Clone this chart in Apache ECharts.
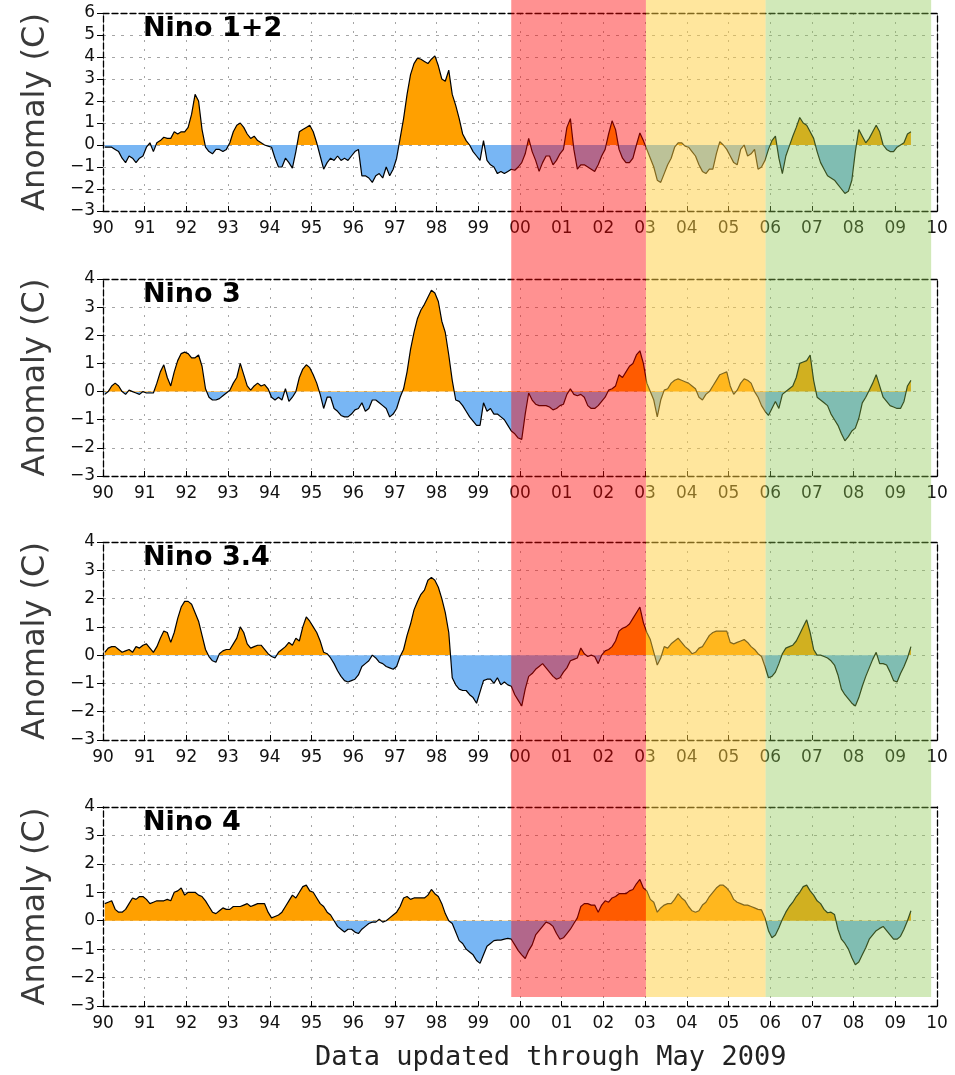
<!DOCTYPE html>
<html>
<head>
<meta charset="utf-8">
<title>Nino SST anomalies</title>
<script src="https://cdn.jsdelivr.net/npm/echarts@6/dist/echarts.min.js"></script>
<style>
html, body { margin: 0; padding: 0; background: #fff; }
#main { width: 955px; height: 1075px; }
</style>
</head>
<body>
<div id="main"></div>
<script>
// monthly anomalies, Jan 1990 .. May 2009 (one row per year)
var startYear = 1990;
var panelNames = ['Nino 1+2', 'Nino 3', 'Nino 3.4', 'Nino 4'];
var yMax = [6, 4, 4, 4];
var yMin = -3;

var nino12 = [
    -0.1, -0.1, -0.1, -0.2, -0.3, -0.6, -0.8, -0.5, -0.6, -0.8, -0.6, -0.5,
    -0.1, 0.1, -0.3, 0.1, 0.2, 0.35, 0.3, 0.3, 0.6, 0.5, 0.6, 0.6,
    0.8, 1.4, 2.3, 2.0, 0.7, -0.1, -0.3, -0.4, -0.2, -0.2, -0.3, -0.2,
    0.1, 0.6, 0.9, 1.0, 0.8, 0.5, 0.3, 0.4, 0.2, 0.1, 0.0, -0.05,
    -0.1, -0.6, -1.0, -1.0, -0.6, -0.8, -1.05, -0.3, 0.6, 0.7, 0.8, 0.9,
    0.6, 0.1, -0.5, -1.1, -0.8, -0.6, -0.7, -0.5, -0.7, -0.6, -0.7, -0.5,
    -0.3, -0.2, -1.4, -1.4, -1.5, -1.7, -1.4, -1.3, -1.5, -1.0, -1.4, -1.1,
    -0.6, 0.3, 1.2, 2.3, 3.2, 3.7, 3.95, 3.9, 3.8, 3.7, 3.9, 4.05,
    3.6, 3.0, 2.9, 3.4, 2.3, 1.8, 1.2, 0.5, 0.2, 0.0, -0.3, -0.5,
    -0.7, 0.2, -0.7, -0.9, -1.0, -1.3, -1.2, -1.3, -1.2, -1.1, -1.15, -1.0,
    -0.8, -0.4, 0.3, -0.3, -0.7, -1.2, -0.8, -0.5, -0.5, -0.9, -0.7, -0.4,
    -0.2, 0.8, 1.2, -0.2, -1.1, -0.9, -0.9, -1.0, -1.1, -1.2, -0.9, -0.5,
    -0.2, 0.5, 1.1, 0.7, -0.2, -0.6, -0.8, -0.8, -0.6, 0.0, 0.55, 0.2,
    -0.2, -0.6, -1.0, -1.6, -1.7, -1.3, -0.9, -0.6, -0.1, 0.1, 0.1, -0.05,
    -0.1, -0.3, -0.5, -0.9, -1.2, -1.3, -1.1, -1.1, -0.4, 0.15, 0.0, -0.2,
    -0.5, -0.8, -0.9, -0.2, 0.0, -0.5, -0.4, -0.2, -1.1, -1.0, -0.7, -0.2,
    0.2, 0.4, -0.6, -1.3, -0.5, -0.05, 0.4, 0.8, 1.25, 1.0, 0.9, 0.6,
    0.3, -0.3, -0.8, -1.1, -1.4, -1.5, -1.6, -1.8, -2.0, -2.2, -2.1, -1.6,
    -0.3, 0.7, 0.4, 0.1, 0.3, 0.6, 0.9, 0.6, 0.0, -0.2, -0.3, -0.3,
    -0.1, 0.0, 0.1, 0.5, 0.6
];

var nino3 = [
    -0.1, 0.0, 0.2, 0.3, 0.2, 0.0, -0.1, 0.05, 0.0, -0.05, -0.1, 0.0,
    -0.05, -0.05, -0.05, 0.3, 0.7, 0.95, 0.5, 0.2, 0.7, 1.1, 1.35, 1.4,
    1.35, 1.2, 1.2, 1.3, 0.9, 0.1, -0.2, -0.3, -0.3, -0.25, -0.15, -0.05,
    0.05, 0.3, 0.5, 1.0, 0.6, 0.2, 0.05, 0.2, 0.3, 0.2, 0.25, 0.1,
    -0.2, -0.3, -0.2, -0.3, 0.1, -0.35, -0.2, 0.0, 0.5, 0.8, 0.95, 0.85,
    0.6, 0.3, -0.1, -0.6, -0.2, -0.2, -0.6, -0.7, -0.85, -0.9, -0.9, -0.8,
    -0.65, -0.6, -0.4, -0.7, -0.6, -0.3, -0.3, -0.4, -0.5, -0.6, -0.9, -0.8,
    -0.6, -0.2, 0.1, 0.7, 1.5, 2.1, 2.6, 2.9, 3.1, 3.35, 3.6, 3.5,
    3.2, 2.5, 2.1, 1.3, 0.4, -0.3, -0.35, -0.5, -0.7, -0.9, -1.05, -1.2,
    -1.2, -0.4, -0.7, -0.6, -0.8, -0.8, -0.9, -1.0, -1.2, -1.4, -1.5, -1.65,
    -1.7, -0.8, -0.05, -0.3, -0.45, -0.5, -0.5, -0.5, -0.55, -0.65, -0.6, -0.5,
    -0.45, -0.1, 0.1, -0.1, -0.15, -0.1, -0.2, -0.5, -0.6, -0.6, -0.5, -0.35,
    -0.2, 0.05, 0.1, 0.2, 0.6, 0.5, 0.7, 0.9, 1.0, 1.3, 1.45, 1.0,
    0.3, 0.0, -0.3, -0.9, -0.3, 0.05, 0.1, 0.3, 0.4, 0.45, 0.4, 0.35,
    0.3, 0.2, 0.1, -0.2, -0.3, -0.1, 0.0, 0.2, 0.4, 0.6, 0.65, 0.7,
    0.2, -0.1, 0.05, 0.3, 0.45, 0.4, 0.3, 0.0, -0.2, -0.5, -0.7, -0.85,
    -0.6, -0.35, -0.6, -0.1, 0.0, 0.1, 0.2, 0.5, 1.0, 1.05, 1.1, 1.3,
    0.4, -0.2, -0.3, -0.4, -0.5, -0.8, -1.0, -1.2, -1.5, -1.75, -1.6, -1.4,
    -1.3, -0.95, -0.4, -0.2, 0.05, 0.3, 0.6, 0.2, -0.2, -0.35, -0.5, -0.55,
    -0.6, -0.6, -0.35, 0.2, 0.4
];

var nino34 = [
    0.1, 0.25, 0.3, 0.3, 0.2, 0.1, 0.15, 0.2, 0.1, 0.3, 0.25, 0.35,
    0.4, 0.25, 0.1, 0.3, 0.6, 0.85, 0.8, 0.45, 0.8, 1.3, 1.7, 1.9,
    1.9, 1.8, 1.5, 1.2, 0.7, 0.2, -0.05, -0.2, -0.25, 0.05, 0.15, 0.2,
    0.2, 0.4, 0.6, 1.0, 0.8, 0.4, 0.25, 0.3, 0.35, 0.35, 0.2, 0.05,
    -0.05, -0.1, 0.1, 0.2, 0.3, 0.45, 0.35, 0.6, 0.5, 1.0, 1.35, 1.2,
    1.0, 0.8, 0.5, 0.1, 0.05, -0.1, -0.3, -0.55, -0.75, -0.9, -0.95, -0.9,
    -0.85, -0.7, -0.4, -0.3, -0.2, 0.0, -0.1, -0.25, -0.3, -0.4, -0.45, -0.5,
    -0.4, -0.05, 0.2, 0.7, 1.1, 1.6, 1.9, 2.15, 2.3, 2.65, 2.75, 2.65,
    2.4, 2.0, 1.5, 0.8, -0.8, -1.05, -1.2, -1.25, -1.25, -1.4, -1.5, -1.7,
    -1.3, -0.9, -0.85, -0.85, -1.0, -0.8, -1.05, -0.95, -1.05, -1.1, -1.4, -1.6,
    -1.8, -1.2, -0.75, -0.65, -0.5, -0.4, -0.3, -0.45, -0.6, -0.75, -0.85, -0.8,
    -0.6, -0.45, -0.2, -0.15, -0.1, 0.25, 0.05, -0.05, 0.0, -0.05, -0.3, 0.0,
    0.15, 0.2, 0.3, 0.5, 0.85, 0.95, 1.0, 1.1, 1.3, 1.5, 1.7, 1.15,
    0.8, 0.55, 0.1, -0.35, -0.1, 0.3, 0.25, 0.4, 0.5, 0.6, 0.45, 0.3,
    0.2, 0.05, 0.1, 0.25, 0.3, 0.5, 0.7, 0.8, 0.85, 0.85, 0.85, 0.85,
    0.45, 0.4, 0.45, 0.5, 0.55, 0.45, 0.3, 0.2, 0.05, -0.05, -0.4, -0.8,
    -0.75, -0.6, -0.3, 0.05, 0.25, 0.3, 0.35, 0.5, 0.75, 1.0, 1.25, 0.8,
    0.2, 0.0, 0.0, -0.05, -0.1, -0.2, -0.35, -0.7, -1.2, -1.4, -1.55, -1.7,
    -1.8, -1.5, -1.1, -0.75, -0.45, -0.15, 0.1, -0.3, -0.3, -0.35, -0.6, -0.9,
    -0.95, -0.65, -0.4, -0.1, 0.3
];

var nino4 = [
    0.6, 0.65, 0.7, 0.4, 0.3, 0.3, 0.4, 0.6, 0.8, 0.75, 0.85, 0.85,
    0.75, 0.6, 0.65, 0.7, 0.7, 0.7, 0.75, 0.7, 1.0, 1.05, 1.15, 0.9,
    1.0, 1.0, 1.0, 0.9, 0.85, 0.7, 0.5, 0.3, 0.25, 0.35, 0.45, 0.4,
    0.4, 0.5, 0.5, 0.5, 0.55, 0.6, 0.5, 0.55, 0.6, 0.6, 0.6, 0.3,
    0.1, 0.15, 0.2, 0.3, 0.5, 0.7, 0.9, 0.8, 1.0, 1.2, 1.25, 1.05,
    1.0, 0.8, 0.6, 0.5, 0.3, 0.2, 0.0, -0.2, -0.3, -0.4, -0.3, -0.3,
    -0.4, -0.45, -0.3, -0.2, -0.1, -0.05, -0.05, 0.05, -0.05, 0.0, 0.1, 0.2,
    0.3, 0.5, 0.8, 0.85, 0.75, 0.8, 0.8, 0.8, 0.8, 0.9, 1.1, 0.95,
    0.85, 0.6, 0.25, 0.0, -0.1, -0.4, -0.7, -0.8, -1.0, -1.1, -1.2, -1.4,
    -1.5, -1.2, -0.9, -0.8, -0.7, -0.68, -0.68, -0.65, -0.62, -0.65, -0.85, -1.05,
    -1.2, -1.33, -1.05, -0.85, -0.5, -0.35, -0.2, -0.05, -0.1, -0.2, -0.45, -0.65,
    -0.6, -0.45, -0.3, -0.1, 0.1, 0.5, 0.6, 0.6, 0.55, 0.55, 0.3, 0.55,
    0.7, 0.65, 0.8, 0.85, 0.95, 0.95, 0.95, 1.05, 1.1, 1.3, 1.45, 1.15,
    1.05, 0.75, 0.65, 0.3, 0.45, 0.55, 0.6, 0.6, 0.75, 0.95, 0.8, 0.7,
    0.5, 0.35, 0.3, 0.35, 0.55, 0.65, 0.85, 1.0, 1.15, 1.25, 1.25, 1.15,
    1.0, 0.75, 0.65, 0.6, 0.55, 0.55, 0.5, 0.45, 0.4, 0.38, 0.1, -0.35,
    -0.6, -0.5, -0.25, 0.05, 0.3, 0.5, 0.65, 0.85, 1.0, 1.2, 1.25, 1.05,
    0.9, 0.7, 0.6, 0.4, 0.28, 0.3, 0.22, -0.3, -0.65, -0.8, -1.0, -1.3,
    -1.55, -1.45, -1.2, -0.95, -0.65, -0.5, -0.35, -0.27, -0.2, -0.35, -0.5, -0.65,
    -0.65, -0.55, -0.3, 0.0, 0.35
];

// shaded periods (decimal years)
var bands = [[1999.79, 2003.02], [2003.02, 2005.89], [2005.89, 2009.86]];
var bandColors = ['rgba(255,0,0,0.43)', 'rgba(255,205,60,0.5)', 'rgba(140,200,80,0.4)'];
var footerText = 'Data updated through May 2009';

var allSeries = [nino12, nino3, nino34, nino4];
var gridTops = [13, 279, 542, 807];
var gridHeights = [198, 197, 198, 199];

var chart = echarts.init(document.getElementById('main'), null, { renderer: 'canvas' });

function yearLabel(v) {
    var s = String(v % 100);
    return s.length < 2 ? '0' + s : s;
}

function toPoints(vals) {
    return vals.map(function (v, i) {
        return [startYear + (i + 0.5) / 12, v];
    });
}

var frameLine = { color: '#000', width: 1.3, type: [6, 3] };
var grids = [], xAxes = [], yAxes = [], seriesList = [], titles = [];

for (var i = 0; i < 4; i++) {
    grids.push({ left: 103, width: 834, top: gridTops[i], height: gridHeights[i] });

    xAxes.push({
        type: 'value', gridIndex: i, min: 1990, max: 2010, interval: 1,
        axisLine: { onZero: false, lineStyle: frameLine },
        axisTick: { inside: true, length: 5, lineStyle: { color: '#000' } },
        axisLabel: { formatter: yearLabel, color: '#111', fontFamily: 'DejaVu Sans', fontSize: 17, margin: 9 },
        splitLine: { show: true, lineStyle: { color: '#a5a5a5', type: [2, 7] } }
    });
    xAxes.push({
        type: 'value', gridIndex: i, position: 'top', min: 1990, max: 2010, interval: 1,
        axisLine: { onZero: false, lineStyle: frameLine },
        axisTick: { show: false }, axisLabel: { show: false }, splitLine: { show: false }
    });

    yAxes.push({
        type: 'value', gridIndex: i, min: yMin, max: yMax[i], interval: 1,
        name: 'Anomaly (C)', nameLocation: 'middle', nameGap: 51,
        nameTextStyle: { fontFamily: 'DejaVu Sans', fontSize: 32, color: '#3a3a3a' },
        axisLine: { show: true, onZero: false, lineStyle: frameLine },
        axisTick: { show: true, length: 6, lineStyle: { color: '#000' } },
        axisLabel: {
            formatter: function (v) { return String(v).replace('-', '\u2212'); },
            color: '#111', fontFamily: 'DejaVu Sans', fontSize: 17, margin: 8
        },
        splitLine: { show: true, lineStyle: { color: '#a5a5a5', type: [3, 6] } }
    });
    yAxes.push({
        type: 'value', gridIndex: i, position: 'right', min: yMin, max: yMax[i], interval: 1,
        axisLine: { show: true, onZero: false, lineStyle: frameLine },
        axisTick: { show: false }, axisLabel: { show: false }, splitLine: { show: false }
    });

    seriesList.push({
        type: 'line',
        xAxisIndex: 2 * i,
        yAxisIndex: 2 * i,
        data: toPoints(allSeries[i]),
        showSymbol: false,
        symbol: 'none',
        lineStyle: { color: '#000', width: 1.2 },
        areaStyle: { opacity: 1 },
        z: 3,
        silent: true
    });

    titles.push({
        text: panelNames[i], left: 143, top: gridTops[i] + 2, padding: 0,
        textStyle: { fontFamily: 'DejaVu Sans', fontWeight: 'bold', fontSize: 27, color: '#000' }
    });
}

titles.push({
    text: footerText, left: 315, top: 1044, padding: 0,
    textStyle: { fontFamily: 'DejaVu Sans Mono', fontWeight: 'normal', fontSize: 27, color: '#222' }
});

// overlay grid for the shaded periods, spanning all panels
grids.push({ left: 103, width: 834, top: 0, height: 997 });
xAxes.push({ type: 'value', gridIndex: 4, min: 1990, max: 2010, show: false });
yAxes.push({ type: 'value', gridIndex: 4, min: 0, max: 1, show: false });

seriesList.push({
    type: 'custom',
    xAxisIndex: 8,
    yAxisIndex: 8,
    z: 20,
    silent: true,
    clip: false,
    data: bands.map(function (b, k) { return [b[0], b[1], k]; }),
    encode: { x: [0, 1], y: 2 },
    renderItem: function (params, api) {
        var p0 = api.coord([api.value(0), 1]);
        var p1 = api.coord([api.value(1), 0]);
        return {
            type: 'rect',
            shape: { x: p0[0], y: p0[1], width: p1[0] - p0[0], height: p1[1] - p0[1] },
            style: { fill: bandColors[api.value(2)] }
        };
    }
});

var option = {
    animation: false,
    backgroundColor: '#fff',
    title: titles,
    grid: grids,
    xAxis: xAxes,
    yAxis: yAxes,
    visualMap: {
        type: 'piecewise',
        show: false,
        seriesIndex: [0, 1, 2, 3],
        dimension: 1,
        pieces: [
            { min: -10, max: 0, color: '#78b6f4' },
            { gt: 0, max: 10, color: '#ffa000' }
        ]
    },
    series: seriesList
};

chart.setOption(option);
</script>
</body>
</html>
